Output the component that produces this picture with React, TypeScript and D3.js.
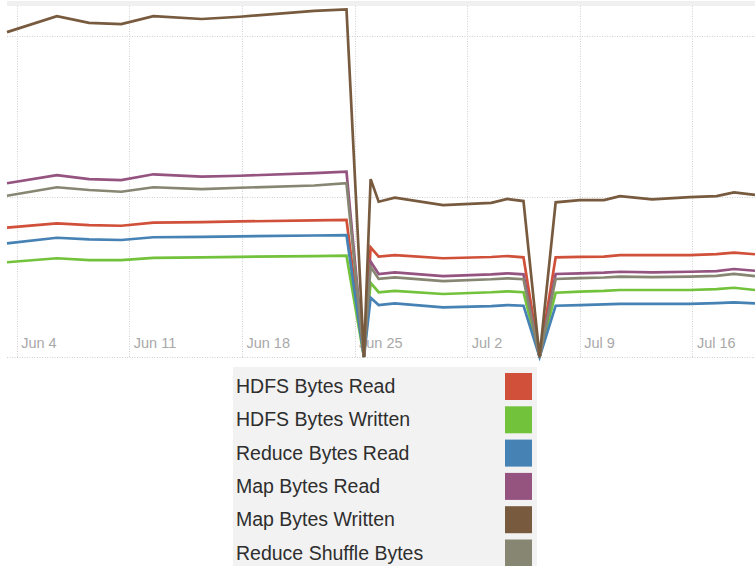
import { useEffect, useRef } from 'react';
import * as d3 from 'd3';

// sample times (UTC), one per visible vertex of the lines
const times = [
  '2017-06-03T09:36', '2017-06-06T12:00', '2017-06-08T12:00', '2017-06-10T12:00',
  '2017-06-12T12:00', '2017-06-15T12:00', '2017-06-17T21:00', '2017-06-22T12:00',
  '2017-06-24T12:00', '2017-06-25T14:00', '2017-06-26T00:00', '2017-06-26T12:00',
  '2017-06-27T12:00', '2017-06-30T12:00', '2017-07-03T12:00', '2017-07-04T12:00',
  '2017-07-05T12:00', '2017-07-06T12:00', '2017-07-07T12:00', '2017-07-09T00:00',
  '2017-07-10T12:00', '2017-07-11T12:00', '2017-07-13T12:00', '2017-07-15T20:00',
  '2017-07-17T12:00', '2017-07-18T14:00', '2017-07-19T21:20',
];

// values in TB
const hdfsBytesRead = [
  80.7, 83.4, 82.3, 81.9, 83.8, 84.2, 84.6, 85.2, 85.5, 0, 68.4, 62.6, 63.6, 61.6,
  62.4, 63.0, 62.2, 0, 62.2, 62.5, 62.6, 63.6, 63.6, 63.6, 64.2, 65.1, 64.1,
];
const hdfsBytesWritten = [
  59.1, 61.6, 60.5, 60.5, 61.9, 62.2, 62.5, 62.9, 63.2, 0, 46.3, 40.4, 41.2, 39.3,
  40.4, 41.0, 40.4, 0, 40.1, 40.8, 41.2, 41.8, 41.8, 41.8, 42.4, 43.2, 41.8,
];
const reduceBytesRead = [
  70.9, 74.4, 73.4, 73.0, 74.7, 75.0, 75.3, 75.8, 76.1, 0, 37.0, 32.4, 33.5, 31.0,
  31.8, 32.4, 32.0, 0, 32.0, 32.4, 32.8, 33.1, 33.1, 33.1, 33.6, 34.1, 33.5,
];
const mapBytesRead = [
  108.4, 113.5, 111.0, 110.4, 114.0, 112.5, 113.1, 114.7, 115.6, 0, 59.5, 51.8, 52.8,
  50.5, 51.5, 52.2, 51.6, 0, 51.8, 52.2, 52.6, 53.2, 52.8, 53.2, 53.6, 54.9, 53.8,
];
const mapBytesWritten = [
  202.7, 212.7, 208.5, 207.7, 212.7, 210.9, 212.3, 216.0, 216.9, 0, 111.0, 96.9, 99.4,
  94.8, 96.2, 98.6, 97.3, 0, 96.5, 97.9, 97.9, 100.4, 98.4, 99.7, 100.4, 102.7, 101.1,
];
const reduceShuffleBytes = [
  100.6, 105.9, 104.2, 103.1, 105.9, 104.8, 105.6, 107.0, 108.4, 0, 56.3, 48.7, 49.7,
  47.4, 48.5, 49.1, 48.5, 0, 48.7, 49.2, 49.6, 50.1, 49.8, 50.1, 50.6, 51.8, 50.5,
];

const seriesNames = [
  'HDFS Bytes Read',
  'HDFS Bytes Written',
  'Reduce Bytes Read',
  'Map Bytes Read',
  'Map Bytes Written',
  'Reduce Shuffle Bytes',
];
const seriesValues = [
  hdfsBytesRead,
  hdfsBytesWritten,
  reduceBytesRead,
  mapBytesRead,
  mapBytesWritten,
  reduceShuffleBytes,
];
const seriesColors = ['#d05039', '#73c23b', '#4682b4', '#955380', '#785b3f', '#868672'];
// draw order: brown last so it sits on top
const drawOrder = [0, 1, 2, 3, 5, 4];

const yGridValues = [100, 200];

export default function App() {
  const svgRef = useRef<SVGSVGElement>(null);

  useEffect(() => {
    document.body.style.margin = '0';
    if (!svgRef.current) return;

    const width = 755;
    const height = 566;
    const plot = { left: 7, right: 755, top: 6, bottom: 357 };

    const parse = d3.utcParse('%Y-%m-%dT%H:%M');
    const dates = times.map((t) => parse(t) as Date);

    const svg = d3.select(svgRef.current);
    svg.selectAll('*').remove();
    svg.attr('width', width).attr('height', height);

    const x = d3
      .scaleUtc()
      .domain([dates[0], dates[dates.length - 1]])
      .range([plot.left, plot.right]);

    const y = d3.scaleLinear().domain([0, 219]).range([plot.bottom, plot.top]);

    // thin band above the plot
    svg
      .append('rect')
      .attr('x', plot.left)
      .attr('y', 1)
      .attr('width', plot.right - plot.left)
      .attr('height', plot.top - 1)
      .attr('fill', '#f0f0f0');

    const weekTicks = x.ticks(d3.utcWeek);

    // vertical grid
    svg
      .append('g')
      .selectAll('line')
      .data(weekTicks)
      .join('line')
      .attr('x1', (d) => Math.round(x(d)) + 0.5)
      .attr('x2', (d) => Math.round(x(d)) + 0.5)
      .attr('y1', plot.top)
      .attr('y2', plot.bottom)
      .attr('stroke', '#cfcfcf')
      .attr('stroke-dasharray', '1,1.5');

    // horizontal grid + baseline
    svg
      .append('g')
      .selectAll('line')
      .data([0, ...yGridValues])
      .join('line')
      .attr('x1', plot.left)
      .attr('x2', plot.right)
      .attr('y1', (d) => Math.round(y(d)) + 0.5)
      .attr('y2', (d) => Math.round(y(d)) + 0.5)
      .attr('stroke', '#cfcfcf')
      .attr('stroke-dasharray', '1,1.5');

    // x tick labels
    const fmt = d3.utcFormat('%b %-d');
    svg
      .append('g')
      .selectAll('text')
      .data(weekTicks)
      .join('text')
      .attr('x', (d) => x(d) + 4.5)
      .attr('y', 348)
      .attr('font-family', '"Liberation Sans", Arial, sans-serif')
      .attr('font-size', 14.5)
      .attr('fill', '#a8a8a8')
      .text((d) => fmt(d));

    const line = d3
      .line<number>()
      .x((_, i) => x(dates[i]))
      .y((v) => y(v));

    svg
      .append('g')
      .selectAll('path')
      .data(drawOrder)
      .join('path')
      .attr('d', (k) => line(seriesValues[k]))
      .attr('fill', 'none')
      .attr('stroke', (k) => seriesColors[k])
      .attr('stroke-width', 2.7)
      .attr('stroke-linejoin', 'miter');

    // legend
    const legend = svg.append('g');
    legend
      .append('rect')
      .attr('x', 233)
      .attr('y', 367)
      .attr('width', 304)
      .attr('height', height - 367)
      .attr('fill', '#f2f2f2');

    const rowH = 33.3;
    const items = legend
      .selectAll('g')
      .data(seriesNames)
      .join('g')
      .attr('transform', (_, i) => `translate(0,${i * rowH})`);

    items
      .append('text')
      .attr('x', 236)
      .attr('y', 393)
      .attr('font-family', '"Liberation Sans", Arial, sans-serif')
      .attr('font-size', 19.5)
      .attr('fill', '#2e2e2e')
      .text((d) => d);

    items
      .append('rect')
      .attr('x', 505)
      .attr('y', 373)
      .attr('width', 27)
      .attr('height', 27)
      .attr('fill', (_, i) => seriesColors[i]);
  }, []);

  return <svg ref={svgRef} style={{ display: 'block' }} />;
}
